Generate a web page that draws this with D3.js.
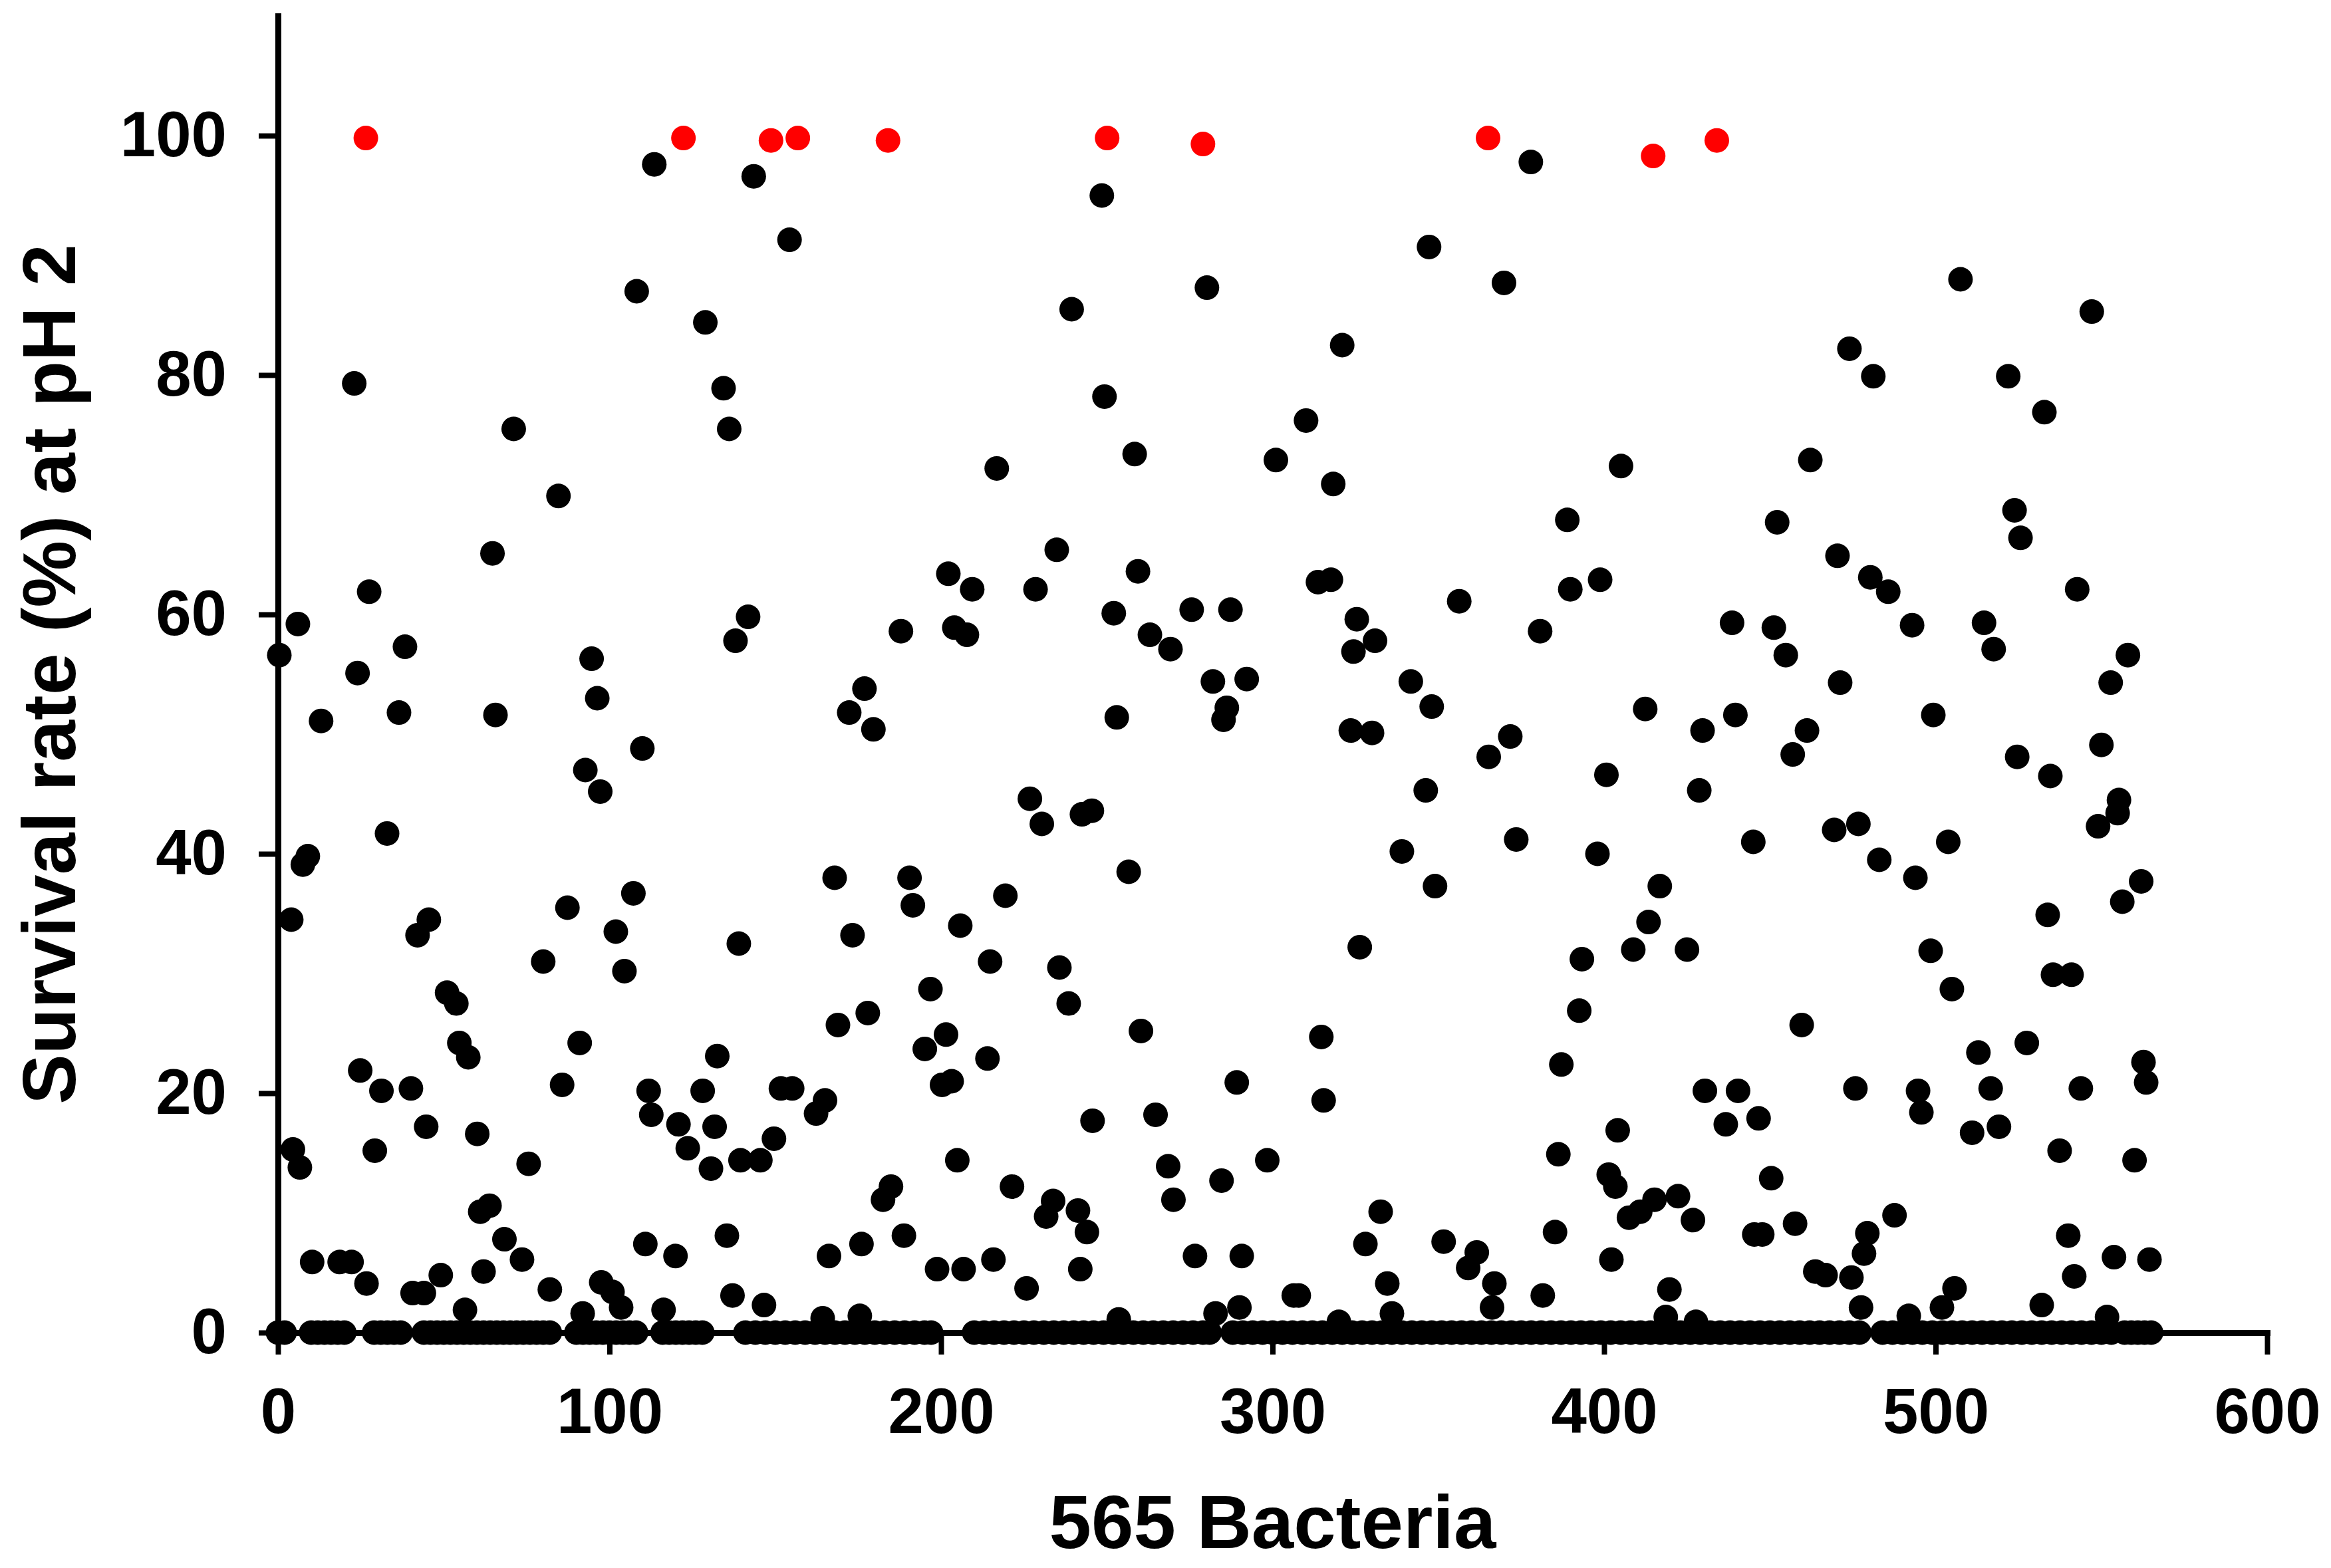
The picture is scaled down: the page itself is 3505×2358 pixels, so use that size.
<!DOCTYPE html>
<html><head><meta charset="utf-8">
<script src="https://cdn.jsdelivr.net/npm/d3@7"></script>
<style>html,body{margin:0;padding:0;background:#fff;} svg{display:block;}</style>
</head><body>
<svg id="chart" width="3505" height="2358"></svg>
<script>
// ---------------- DATA ----------------
const xTicks = [0, 100, 200, 300, 400, 500, 600];
const yTicks = [0, 20, 40, 60, 80, 100];
const xTitle = "565 Bacteria";
const yTitle = "Survival rate (%) at pH 2";

// bacteria with ~100 % survival (highlighted red): [bacterium, survival %]
const redPoints = [[26.5,99.8],[122.3,99.8],[148.7,99.6],[156.8,99.8],[184,99.6],[250.1,99.8],[279,99.3],[365,99.8],[414.8,98.3],[434,99.6]];

// other bacteria with survival > 0: [bacterium, survival %]
const blackPoints = [
[0.4,56.6],[4,34.5],[4.5,15.3],[6,59.2],[6.6,13.8],[7.5,39.1],[9,39.8],[10.3,5.9],[13,51.1],[18.6,5.9],[22.2,5.9],[23,79.3],[24,55.1],[24.8,21.9],[26.7,4.1],[27.5,61.9],[29.2,15.2],[31.2,20.2],[32.9,41.7],[36.5,51.8],[38.3,57.3],[40.1,20.4],[40.6,3.3],[42.1,33.2],[44,3.3],[44.7,17.2],[45.5,34.5],[49.1,4.8],[51,28.4],[53.8,27.5],[54.7,24.2],[56.4,1.9],[57.4,23],[60.1,16.6],[61,10.1],[62,5.1],[63.8,10.6],[64.7,65.1],[65.6,51.6],[68.3,7.8],[71.1,75.5],[73.6,6.1],[75.6,14.1],[80,31],[82,3.6],[84.6,69.9],[85.7,20.7],[87.3,35.5],[91,24.2],[91.9,1.6],[92.7,47],[94.6,56.3],[96.3,53],[97.2,45.2],[97.5,4.2],[100.9,3.4],[101.9,33.5],[103.5,2.1],[104.5,30.2],[107.2,36.7],[108.2,87],[109.9,48.8],[110.8,7.4],[111.8,20.2],[112.6,18.2],[113.5,97.6],[116.3,1.9],[119.9,6.4],[120.8,17.4],[123.6,15.4],[128.1,20.2],[128.9,84.4],[130.6,13.7],[131.7,17.2],[132.5,23.1],[134.4,78.9],[135.4,8.1],[136.1,75.5],[137.1,3.1],[138,57.8],[139,32.5],[139.5,14.4],[141.8,59.8],[143.5,96.6],[145.5,14.4],[146.6,2.3],[149.6,16.2],
[151.7,20.4],[154.3,91.3],[155.1,20.4],[162.3,18.3],[164.3,1.2],[165,19.4],[166.2,6.4],[167.9,38],[168.9,25.7],[172.3,51.8],[173.3,33.2],[175.5,1.4],[176,7.4],[176.9,53.8],[177.9,26.7],[179.6,50.4],[182.5,11.1],[184.9,12.2],[187.9,58.6],[188.8,8.1],[190.5,38],[191.5,35.7],[195.1,23.7],[196.8,28.7],[198.8,5.3],[200.3,20.7],[201.5,24.9],[202.2,63.4],[203.2,21],[204,58.9],[204.9,14.4],[205.8,34],[206.8,5.3],[207.8,58.3],[209.4,62.1],[214,22.9],[214.8,31],[215.8,6.1],[216.8,72.2],[219.4,36.5],[221.4,12.2],[225.8,3.7],[226.8,44.6],[228.5,62.1],[230.4,42.5],[231.7,9.7],[233.8,11],[234.9,65.4],[235.7,30.5],[238.5,27.5],[239.4,85.5],[241.3,10.2],[242,5.3],[242.5,43.3],[244,8.4],[245.5,43.6],[245.7,17.7],[248.5,95],[249.3,78.2],[252.1,60.1],[253,51.4],[253.6,1.1],[256.6,38.5],[258.4,73.4],[259.4,63.6],[260.3,25.2],[263,58.3],[264.7,18.2],[268.5,13.9],[269.2,57.1],[270.1,11.1],[275.6,60.4],[276.6,6.4],[280.2,87.3],[282,54.4],[282.8,1.6],[284.6,12.7],[285.2,51.2],[286.2,52.2],[287.3,60.4],[289.2,20.9],[290,2.1],[290.7,6.4],[292.2,54.6],[298.4,14.4],
[301,72.9],[306.4,3.1],[307.9,3.1],[310.1,76.2],[313.7,62.7],[314.7,24.7],[315.4,19.4],[317.6,62.9],[318.3,70.9],[320,0.9],[321,82.5],[323.6,50.3],[324.4,56.9],[325.4,59.6],[326.3,32.2],[328,7.4],[330,50.1],[330.9,57.8],[332.6,10.1],[334.6,4.1],[336,1.6],[339,40.2],[341.7,54.4],[346.2,45.3],[347.2,90.7],[348,52.3],[349,37.3],[351.6,7.6],[356.3,61.1],[359,5.4],[361.6,6.7],[365.2,48.1],[366.2,2.1],[366.9,4.1],[369.8,87.7],[371.7,49.8],[373.5,41.2],[377.9,97.8],[380.7,58.6],[381.5,3.1],[385.2,8.4],[386.2,14.9],[387.1,22.4],[388.9,67.9],[389.8,62.1],[392.5,26.9],[393.3,31.2],[398,40],[398.8,62.9],[400.7,46.6],[401.4,13.2],[402.2,6.1],[403.4,12.2],[404.1,16.9],[405.1,72.4],[407.5,9.6],[408.8,32],[410.9,10.1],[412.4,52.1],[413.4,34.3],[415.2,11.1],[416.8,37.3],[418.6,1.3],[419.7,3.6],[422.3,11.4],[425,32],[426.8,9.4],[427.7,0.9],[428.7,45.3],[429.7,50.3],[430.4,20.2],[436.7,17.4],[438.6,59.3],[439.6,51.6],[440.4,20.2],[445,41],[445.3,8.2],[446.6,17.9],[447.7,8.2],[450.4,12.9],
[451.2,58.9],[452.2,67.7],[454.8,56.6],[456.9,48.3],[457.6,9.1],[459.6,25.7],[461.2,50.3],[462.2,72.9],[463.7,5.1],[466.8,4.8],[469.4,42],[470.4,64.9],[471.2,54.3],[474,82.2],[474.6,4.6],[475.8,20.4],[476.7,42.5],[477.5,2.1],[478.4,6.6],[479.4,8.3],[480.3,63.1],[481.2,79.9],[483,39.5],[485.7,61.9],[487.6,9.8],[491.9,1.4],[492.9,59.1],[493.9,38],[494.7,20.2],[495.7,18.4],[498.5,31.9],[499.3,51.6],[501.9,2.1],[503.8,41],[504.9,28.7],[505.7,3.7],[507.5,88],[511,16.7],[512.9,23.4],[514.6,59.3],[516.6,20.4],[517.5,57.1],[519.1,17.2],[521.9,79.9],[523.8,68.7],[524.6,48.1],[525.6,66.4],[527.5,24.2],[532,2.3],[532.8,76.9],[533.8,34.9],[534.6,46.5],[535.4,29.9],[537.4,15.2],[540,8.1],[541,29.9],[541.8,4.7],[542.7,62.1],[543.8,20.4],[547.1,85.3],[549,42.3],[550,49.1],[551.7,1.3],[552.8,54.3],[553.8,6.3],[554.9,43.4],[555.3,44.5],[556.3,36],[558,56.6],[560,14.4],[562,37.7],[562.7,22.6],[563.5,20.9],[564.5,6.1]
];

// bacteria with 0 % survival (bacterium number)
const zeroPoints = [0,2,10,12,14,16,18,20,29,31,33,35,37,44,46,48,50,52,54,56,58,60,62,64,66,68,70,72,74,76,78,80,82,90,92,94,96,98,100,102,104,106,108,116,118,120,122,124,126,128,
141,144,147,150,153,156,159,162,165,168,171,174,177,180,183,186,189,192,195,197,
210,213,216,219,222,225,228,231,234,237,240,243,246,249,252,255,258,261,264,267,270,273,276,279,281,
288,291,294,297,300,303,306,309,312,315,318,321,324,327,330,333,336,339,342,345,348,351,354,357,360,363,366,369,372,375,378,381,384,387,390,393,396,399,402,405,408,411,414,417,420,423,426,429,432,435,438,441,444,447,450,453,456,459,462,465,468,471,474,477,
484,487,490,493,496,499,502,505,508,511,514,517,520,523,526,529,532,535,538,541,544,547,550,553,557,559,561,563,565];

// ---------------- CHART ----------------
const FONT = "'Liberation Sans', Arial, Helvetica, sans-serif";
const svg = d3.select('#chart');
svg.append('rect').attr('width',3505).attr('height',2358).attr('fill','#fff');

const x = d3.scaleLinear().domain([0, 600]).range([418, 3409]);
const y = d3.scaleLinear().domain([0, 110]).range([2004, 24]);

const gx = svg.append('g').attr('transform', `translate(0,${y(0)})`)
  .call(d3.axisBottom(x).tickValues(xTicks).tickSize(33).tickSizeOuter(0).tickPadding(50).tickFormat(d3.format('d')));
const gy = svg.append('g').attr('transform', `translate(${x(0)},0)`)
  .call(d3.axisLeft(y).tickValues(yTicks).tickSize(29).tickSizeOuter(0).tickPadding(48).tickFormat(d3.format('d')));

[gx, gy].forEach(g => {
  g.select('.domain').attr('stroke', '#000').attr('stroke-width', 9).attr('stroke-linecap', 'square');
  g.selectAll('.tick line').attr('stroke', '#000').attr('stroke-width', 8);
  g.selectAll('.tick text').attr('fill', '#000').style('font-family', FONT)
    .style('font-weight', 'bold').style('font-size', '96px');
});

const r = 18.5;
svg.append('g').selectAll('circle.zero').data(zeroPoints).join('circle')
  .attr('class', 'zero').attr('cx', d => x(d)).attr('cy', y(0)).attr('r', r).attr('fill', '#000');
svg.append('g').selectAll('circle.black').data(blackPoints).join('circle')
  .attr('class', 'black').attr('cx', d => x(d[0])).attr('cy', d => y(d[1])).attr('r', r).attr('fill', '#000');
svg.append('g').selectAll('circle.red').data(redPoints).join('circle')
  .attr('class', 'red').attr('cx', d => x(d[0])).attr('cy', d => y(d[1])).attr('r', r).attr('fill', '#ff0000');

svg.append('text').attr('x', (x(0) + x(600)) / 2).attr('y', 2328)
  .attr('text-anchor', 'middle').style('font-family', FONT).style('font-weight', 'bold')
  .style('font-size', '114px').attr('fill', '#000').text(xTitle);

svg.append('text').attr('transform', `translate(113,${(y(0) + y(110)) / 2}) rotate(-90)`)
  .attr('text-anchor', 'middle').style('font-family', FONT).style('font-weight', 'bold')
  .style('font-size', '113px').attr('fill', '#000').text(yTitle);
</script>
</body></html>
